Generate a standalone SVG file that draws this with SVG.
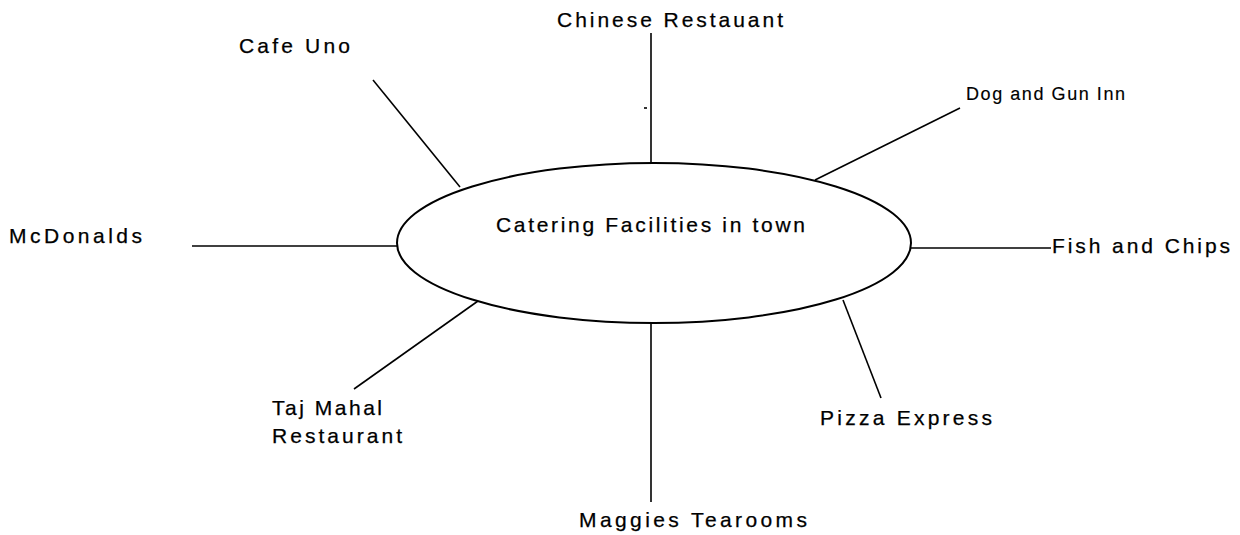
<svg xmlns="http://www.w3.org/2000/svg" width="1240" height="535" viewBox="0 0 1240 535">
  <style>
    .lbl { font-family: "Liberation Sans", Arial, sans-serif; font-size: 21px; fill: #000; stroke: #000; stroke-width: 0.25; }
    .small { font-size: 18px; stroke-width: 0.15; }
    .conn line { stroke: #000; stroke-width: 1.6; fill: none; }
    .hub { fill: #fff; stroke: #000; stroke-width: 2; }
  </style>
  <rect x="0" y="0" width="1240" height="535" fill="#fff"/>
  <g id="connectors" class="conn">
    <line x1="651" y1="33" x2="651" y2="164"/>
    <line x1="644" y1="108" x2="647" y2="108"/>
    <line x1="373" y1="80" x2="460" y2="187"/>
    <line x1="960" y1="108" x2="815" y2="180"/>
    <line x1="192" y1="246" x2="397" y2="246"/>
    <line x1="910" y1="248" x2="1051" y2="248"/>
    <line x1="478" y1="301" x2="354" y2="389"/>
    <line x1="843" y1="300" x2="881" y2="398"/>
    <line x1="651" y1="322" x2="651" y2="502"/>
  </g>
  <g id="hub">
    <ellipse class="hub" cx="654" cy="243" rx="257" ry="80"/>
    <text class="lbl" x="496" y="232" textLength="309" lengthAdjust="spacing">Catering Facilities in town</text>
  </g>
  <g id="chinese"><text class="lbl" x="557" y="27" textLength="226" lengthAdjust="spacing">Chinese Restauant</text></g>
  <g id="cafe-uno"><text class="lbl" x="239" y="53" textLength="111" lengthAdjust="spacing">Cafe Uno</text></g>
  <g id="dog-and-gun"><text class="lbl small" x="966" y="100" textLength="159" lengthAdjust="spacing">Dog and Gun Inn</text></g>
  <g id="mcdonalds"><text class="lbl" x="9" y="243" textLength="133" lengthAdjust="spacing">McDonalds</text></g>
  <g id="fish-and-chips"><text class="lbl" x="1052" y="253" textLength="178" lengthAdjust="spacing">Fish and Chips</text></g>
  <g id="taj-mahal">
    <text class="lbl" x="272" y="415" textLength="110" lengthAdjust="spacing">Taj Mahal</text>
    <text class="lbl" x="272" y="443" textLength="130" lengthAdjust="spacing">Restaurant</text>
  </g>
  <g id="pizza-express"><text class="lbl" x="820" y="425" textLength="172" lengthAdjust="spacing">Pizza Express</text></g>
  <g id="maggies"><text class="lbl" x="579" y="527" textLength="228" lengthAdjust="spacing">Maggies Tearooms</text></g>
</svg>
